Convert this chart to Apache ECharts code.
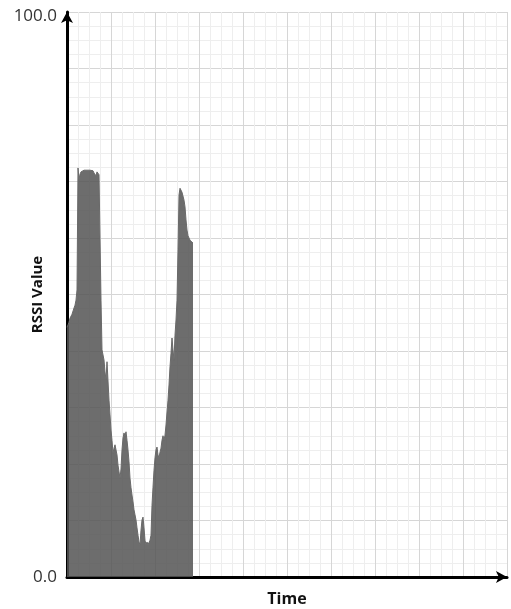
<!DOCTYPE html>
<html>
<head>
<meta charset="utf-8">
<script src="https://cdn.jsdelivr.net/npm/echarts@6/dist/echarts.min.js"></script>
<style>
html,body{margin:0;padding:0;background:#fff;}
#chart{width:511px;height:609px;}
</style>
</head>
<body>
<div id="chart"></div>
<script>
// sample index (time)
var times = [0,1,2,3,4,5,6,7,8,9,10,11,12,13,14,15,16,17,18,19,20,21,22,23,24,25,26,27,28,29,30,31,32,33,34,35,36,37,38,39,40,41,42,43,44,45,46,47,48,49,50,51,52,53,54,55,56,57,58,59,60,61,62,63,64,65,66,67,68,69,70,71,72,73,74,75,76,77,78,79,80,81,82,83,84,85,86,87,88,89,90,91,92,93,94,95,96,97,98,99,100,101,102,103,104,105,106,107,108,109,110,111,112,113,114,115,116,117,118,119,120,121,122,123,124,125,126];
var rssi = [44.2,44.6,45.1,45.8,45.5,46.5,46.2,47.6,48.1,49.0,50.8,72.4,70.3,71.3,71.7,71.9,72.0,72.0,72.2,72.0,72.0,72.2,72.0,72.0,71.9,72.0,71.9,71.5,71.3,71.0,71.7,72.0,71.2,71.0,49.0,40.2,39.3,38.4,36.3,34.9,38.1,38.4,31.3,28.7,26.0,24.2,21.9,22.8,23.4,23.7,21.6,19.8,18.6,17.5,19.1,22.5,24.6,25.5,24.9,25.7,24.2,22.5,20.4,17.5,15.8,14.5,13.3,11.9,11.0,10.1,8.7,7.4,6.2,5.7,8.3,10.1,10.6,8.7,6.5,5.7,6.2,5.7,5.5,6.5,7.4,12.7,15.9,18.9,21.1,22.5,23.0,21.6,21.1,22.1,22.8,24.2,25.0,24.2,25.1,26.9,29.2,31.3,34.0,37.2,39.6,42.3,40.2,38.4,42.8,45.5,49.0,57.9,67.6,68.8,68.5,68.1,68.0,66.7,65.5,63.2,61.4,60.4,60.0,59.6,59.5,59.3,59.1];
var timeMax = 440;
var yMin = 0, yMax = 100;
var xTitle = 'Time';
var yTitle = 'RSSI Value';

var data = times.map(function (t, i) { return [t, rssi[i]]; });
var chart = echarts.init(document.getElementById('chart'), null, {renderer: 'canvas'});
var fontFam = '"Open Sans", "Noto Sans", sans-serif';
chart.setOption({
  animation: false,
  backgroundColor: '#ffffff',
  grid: {left: 67, right: 4, top: 12, bottom: 32, containLabel: false, outerBoundsMode: 'none'},
  xAxis: {
    type: 'value', min: 0, max: timeMax, interval: 44,
    name: xTitle, nameLocation: 'middle', nameGap: 14, nameMoveOverlap: false,
    nameTextStyle: {fontFamily: fontFam, fontWeight: 'bold', fontSize: 16, color: '#111'},
    axisLine: {show: true, symbol: ['none', 'arrow'], symbolSize: [9, 11], lineStyle: {color: '#000', width: 3}},
    axisTick: {show: false},
    axisLabel: {show: false},
    splitLine: {show: true, lineStyle: {color: '#d6d6d6', width: 1}},
    minorTick: {show: false, splitNumber: 4},
    minorSplitLine: {show: true, lineStyle: {color: '#eeeeee', width: 1}}
  },
  yAxis: {
    type: 'value', min: yMin, max: yMax, interval: 10,
    name: yTitle, nameLocation: 'middle', nameGap: 22, nameMoveOverlap: false,
    nameTextStyle: {fontFamily: fontFam, fontWeight: 'bold', fontSize: 15, color: '#111'},
    axisLine: {show: true, symbol: ['none', 'arrow'], symbolSize: [9, 11], lineStyle: {color: '#000', width: 3}},
    axisTick: {show: false},
    axisLabel: {
      show: true, fontFamily: fontFam, fontSize: 17, color: '#333333', margin: 10,
      formatter: function (v) {
        if (v === yMax) return '{top|' + v.toFixed(1) + '}';
        if (v === yMin) return v.toFixed(1);
        return '';
      },
      rich: {top: {fontFamily: fontFam, fontSize: 17, color: '#333333', padding: [9, 0, 0, 0]}}
    },
    splitLine: {show: true, lineStyle: {color: '#d6d6d6', width: 1}},
    minorTick: {show: false, splitNumber: 4},
    minorSplitLine: {show: true, lineStyle: {color: '#eeeeee', width: 1}}
  },
  series: [{
    type: 'line',
    data: data,
    showSymbol: false,
    symbol: 'none',
    lineStyle: {color: '#6a6a6a', width: 1},
    areaStyle: {color: 'rgba(85,85,85,0.86)', opacity: 1},
    z: 1
  }]
});
</script>
</body>
</html>
